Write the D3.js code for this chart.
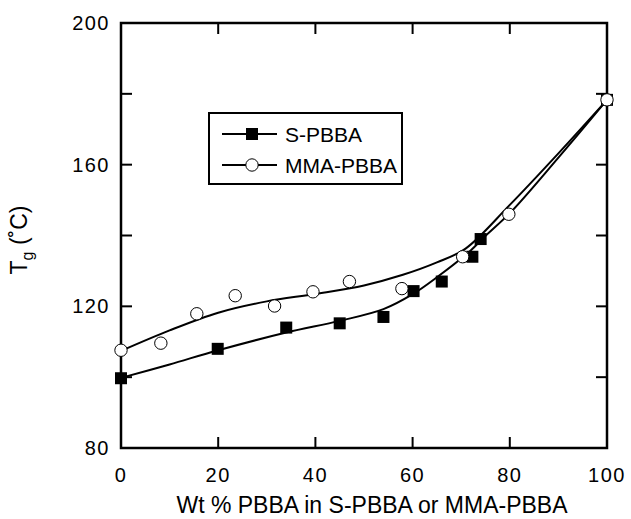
<!DOCTYPE html>
<html><head><meta charset="utf-8">
<script src="https://cdn.jsdelivr.net/npm/d3@7"></script>
<style>body{margin:0;background:#fff;} svg{display:block;}</style>
</head><body>
<svg id="c" width="631" height="519"></svg>
<script>
// Measured points
const sX   = [0, 19.9, 34, 45, 54, 60.2, 66, 72.3, 74, 100];
const sY   = [99.7, 108, 114, 115.2, 117, 124.3, 127, 134, 139, 178.3];
const mX   = [0, 8.2, 15.6, 23.5, 31.6, 39.5, 47, 57.8, 70.3, 79.8, 100];
const mY   = [107.6, 109.6, 117.9, 123, 120.1, 124.1, 127, 125, 134, 146, 178.3];
// Fitted curves
const sFitX = [0, 10, 20, 34, 45, 54, 60.1, 65, 71.9, 74.7, 80.2, 90, 100];
const sFitY = [99.8, 103.6, 107.6, 112.6, 115.9, 119.2, 123.5, 128.2, 135.7, 139.5, 146.6, 162, 178.3];
const mFitX = [0, 10, 20, 30, 40, 50, 58, 65, 70.9, 79.9, 90, 100];
const mFitY = [107.4, 113.2, 118.2, 121.4, 123.5, 125.9, 128.9, 132.4, 136.3, 148.5, 163.2, 178.3];
const xTicks = [0, 20, 40, 60, 80, 100];
const yTicks = [80, 120, 160, 200];
const yMinor = [100, 140, 180];
const seriesNames = ["S-PBBA", "MMA-PBBA"];
const xTitle = "Wt % PBBA in S-PBBA or MMA-PBBA";

const L = 121, R = 607, T = 23, B = 448;
const x = d3.scaleLinear().domain([0, 100]).range([L, R]);
const y = d3.scaleLinear().domain([80, 200]).range([B, T]);
const svg = d3.select("#c");
const font = "'Liberation Sans', Arial, Helvetica, sans-serif";

// inward ticks on all sides
const tl = 11;
const allY = yTicks.concat(yMinor).filter(v => v > 80 && v < 200);
const innerX = xTicks.filter(v => v > 0 && v < 100);
const g = svg.append("g").attr("stroke", "#000").attr("stroke-width", 2);
innerX.forEach(v => {
  g.append("line").attr("x1", x(v)).attr("x2", x(v)).attr("y1", B).attr("y2", B - tl);
  g.append("line").attr("x1", x(v)).attr("x2", x(v)).attr("y1", T).attr("y2", T + tl);
});
allY.forEach(v => {
  g.append("line").attr("x1", L).attr("x2", L + tl).attr("y1", y(v)).attr("y2", y(v));
  g.append("line").attr("x1", R).attr("x2", R - tl).attr("y1", y(v)).attr("y2", y(v));
});
svg.append("rect").attr("x", L).attr("y", T).attr("width", R - L).attr("height", B - T)
  .attr("fill", "none").attr("stroke", "#000").attr("stroke-width", 2.5);

// tick labels
svg.append("g").selectAll("text").data(xTicks).join("text")
  .attr("x", d => x(d)).attr("y", 482).attr("text-anchor", "middle")
  .attr("font-family", font).attr("font-size", 20).attr("letter-spacing", 1.5)
  .text(d => d);
svg.append("g").selectAll("text").data(yTicks).join("text")
  .attr("x", 110).attr("y", d => y(d) + 7).attr("text-anchor", "end")
  .attr("font-family", font).attr("font-size", 20).attr("letter-spacing", 1.5)
  .text(d => d);

// titles
svg.append("text").attr("x", 372).attr("y", 513).attr("text-anchor", "middle")
  .attr("font-family", font).attr("font-size", 23).text(xTitle);
const yt = svg.append("text").attr("transform", "translate(27,240) rotate(-90)")
  .attr("text-anchor", "middle").attr("font-family", font).attr("font-size", 23);
yt.append("tspan").text("T");
yt.append("tspan").attr("font-size", 16).attr("dy", 6).text("g");
yt.append("tspan").attr("dy", -6).text(" (˚C)");

// curves
const line = d3.line().x(d => x(d[0])).y(d => y(d[1])).curve(d3.curveCatmullRom.alpha(0.5));
svg.append("path").datum(mFitX.map((v, i) => [v, mFitY[i]])).attr("d", line)
  .attr("fill", "none").attr("stroke", "#000").attr("stroke-width", 2);
svg.append("path").datum(sFitX.map((v, i) => [v, sFitY[i]])).attr("d", line)
  .attr("fill", "none").attr("stroke", "#000").attr("stroke-width", 2);

// markers
const sq = 12;
svg.append("g").selectAll("rect").data(sX.map((v, i) => [v, sY[i]])).join("rect")
  .attr("x", d => x(d[0]) - sq / 2).attr("y", d => y(d[1]) - sq / 2)
  .attr("width", sq).attr("height", sq).attr("fill", "#000");
svg.append("g").selectAll("circle").data(mX.map((v, i) => [v, mY[i]])).join("circle")
  .attr("cx", d => x(d[0])).attr("cy", d => y(d[1])).attr("r", 6.2)
  .attr("fill", "#fff").attr("stroke", "#000").attr("stroke-width", 1);

// legend
const lg = svg.append("g");
lg.append("rect").attr("x", 209).attr("y", 113).attr("width", 193).attr("height", 71)
  .attr("fill", "#fff").attr("stroke", "#000").attr("stroke-width", 2);
const rows = [134, 165];
rows.forEach((ry, i) => {
  lg.append("line").attr("x1", 222).attr("x2", 277).attr("y1", ry).attr("y2", ry)
    .attr("stroke", "#000").attr("stroke-width", 2);
  if (i === 0) lg.append("rect").attr("x", 252 - 6).attr("y", ry - 6).attr("width", 12).attr("height", 12).attr("fill", "#000");
  else lg.append("circle").attr("cx", 252).attr("cy", ry).attr("r", 6.2).attr("fill", "#fff").attr("stroke", "#000").attr("stroke-width", 1);
  lg.append("text").attr("x", 285).attr("y", ry + 7.5).attr("font-family", font).attr("font-size", 21)
    .text(seriesNames[i]);
});
</script>
</body></html>
